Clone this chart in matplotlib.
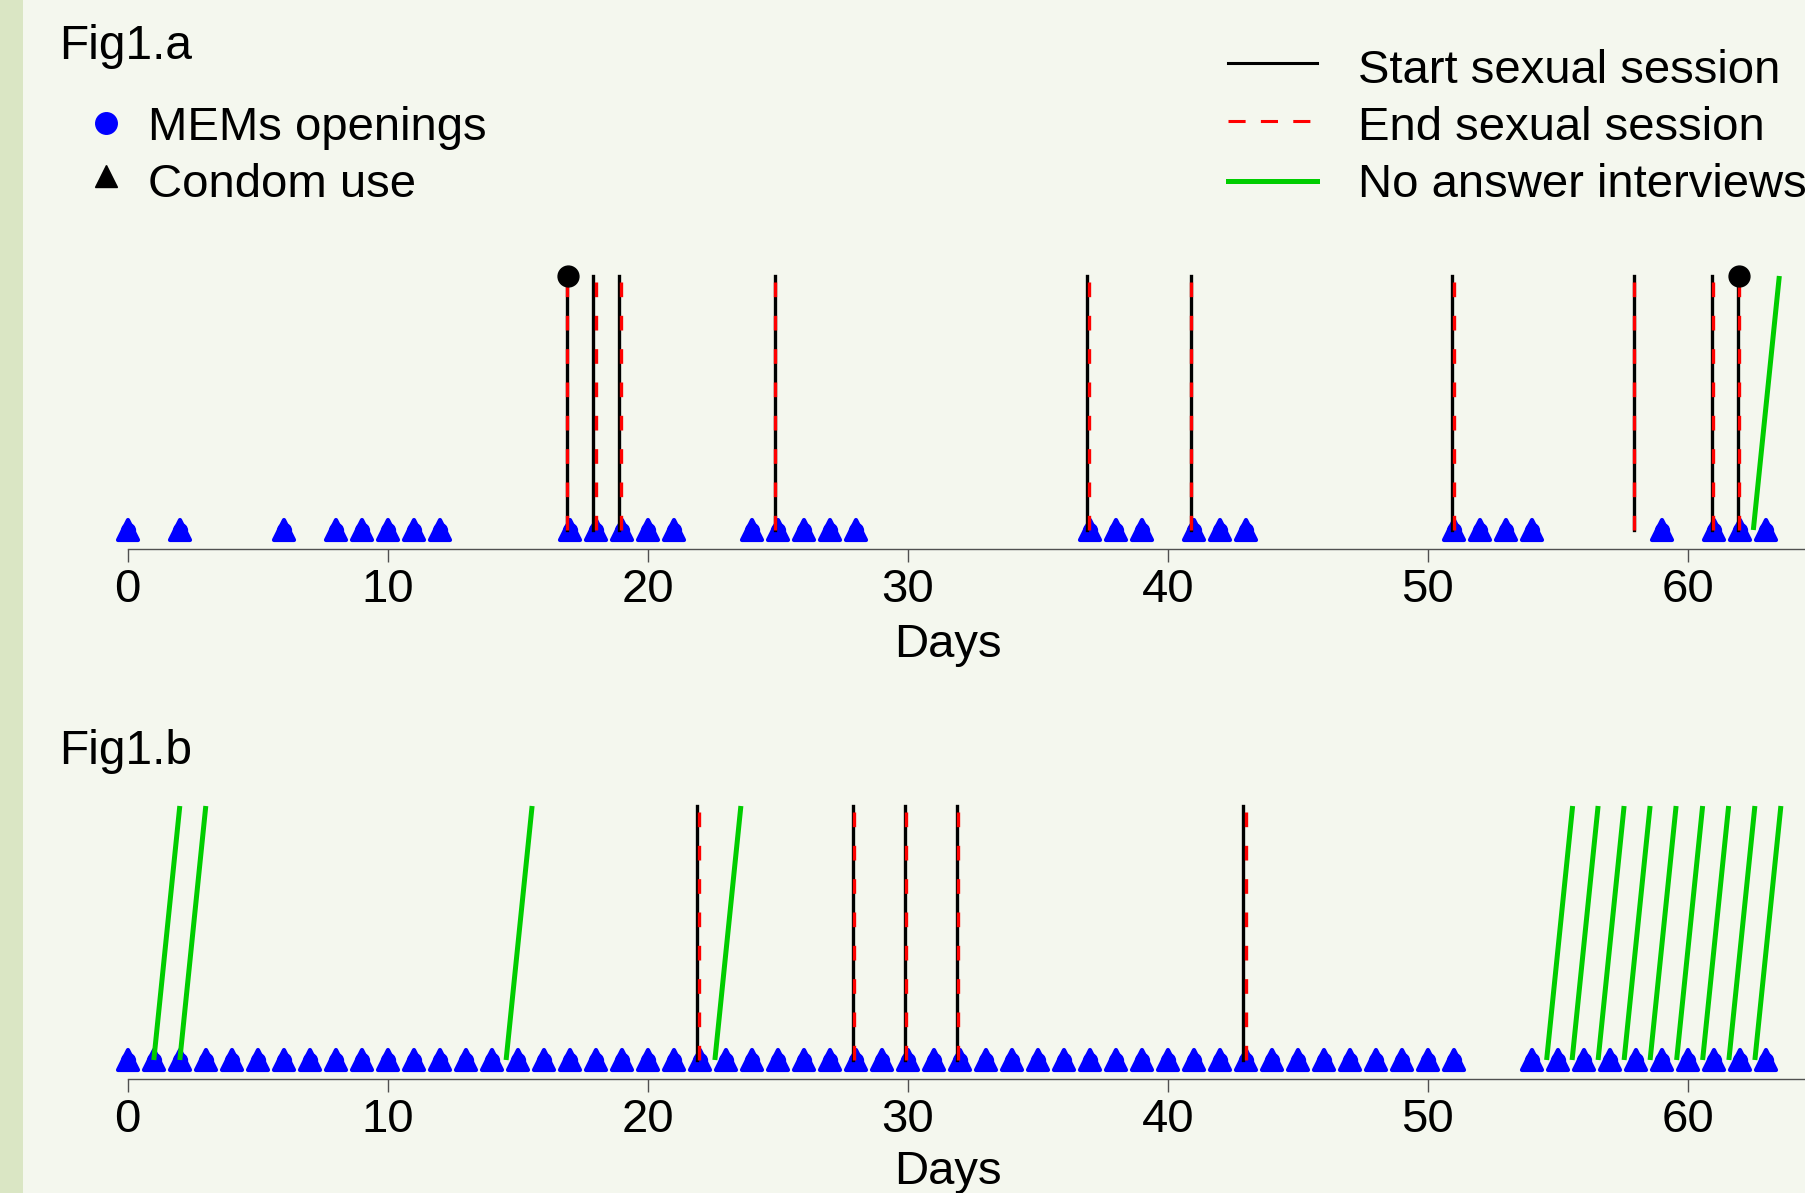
import matplotlib
matplotlib.use("Agg")
import matplotlib.pyplot as plt
from matplotlib.markers import MarkerStyle
from matplotlib.patches import Rectangle

plt.rcParams["font.family"] = ["Liberation Sans", "DejaVu Sans"]

# Fig1.a data (days)
mems_a = [0, 2, 6, 8, 9, 10, 11, 12, 17, 18, 19, 20, 21, 24, 25, 26, 27, 28,
          37, 38, 39, 41, 42, 43, 51, 52, 53, 54, 59, 61, 62, 63]
start_a = [16.88, 17.90, 18.89, 24.89, 36.91, 40.91, 50.92, 57.92, 60.92, 61.92]
end_a = [16.90, 17.99, 18.97, 24.89, 36.98, 40.91, 51.00, 57.92, 60.98, 61.98]
no_condom_a = [16.92, 61.97]
no_answer_a = [62.52]

# Fig1.b data (days)
mems_b = list(range(0, 52)) + list(range(54, 64))
start_b = [21.89, 27.91, 29.90, 31.90, 42.89]
end_b = [21.98, 27.93, 29.92, 31.92, 43.02]
no_condom_b = []
no_answer_b = [1.0, 2.0, 14.55, 22.58, 54.57, 55.55, 56.55, 57.55, 58.55,
               59.57, 60.57, 61.58, 62.58]

day_ticks = [0, 10, 20, 30, 40, 50, 60]
NO_ANSWER_SPAN = 1.0

W, H = 1806, 1193
BG = "#F4F7EE"
FS = 34

fig = plt.figure(figsize=(W / 100, H / 100), dpi=100, facecolor=BG)


def box(left, top, right, bottom):
    return [left / W, 1 - bottom / H, (right - left) / W, (bottom - top) / H]


def panel(top_px, bottom_px, zero_px, mems, starts, ends, dots, green):
    ax = fig.add_axes(box(127.8, top_px, W, bottom_px))
    ax.set_facecolor("none")
    unit = zero_px - top_px
    ax.set_ylim(-(bottom_px - zero_px) / unit, 1.0)
    ax.set_xlim(0, (W - 127.8) / 26.0)
    for s in ["top", "left", "right"]:
        ax.spines[s].set_visible(False)
    ax.spines["bottom"].set_color("#505050")
    ax.spines["bottom"].set_linewidth(1.0)
    ax.set_yticks([])
    ax.set_xticks(day_ticks)
    ax.set_xticklabels([str(t) for t in day_ticks], fontsize=FS)
    ax.tick_params(axis="x", length=9.7, width=1.0, color="#505050", pad=3.5)

    # MEMs openings (circle) overlaid with condom use (triangle)
    ax.plot(mems, [0] * len(mems), "o", color="blue", ms=10, clip_on=False, zorder=2)
    ax.plot(mems, [0] * len(mems), marker=MarkerStyle("^", joinstyle="round"),
            ls="none", color="blue", ms=15, mec="blue", mew=3.0,
            clip_on=False, zorder=2)
    for x in starts:
        ax.plot([x, x], [0, 1], color="black", lw=2.4, clip_on=False, zorder=3)
    for x in ends:
        ax.plot([x, x], [0, 1], color="red", lw=2.4, dashes=(4.4, 5.6),
                clip_on=False, zorder=4)
    for x in green:
        ax.plot([x, x + NO_ANSWER_SPAN], [0, 1], color="#00CD00", lw=3.6,
                solid_capstyle="butt", clip_on=False, zorder=5)
    if dots:
        ax.plot(dots, [1] * len(dots), "o", color="black", ms=15, clip_on=False, zorder=6)
    return ax


panel(276, 549.3, 530, mems_a, start_a, end_a, no_condom_a, no_answer_a)
panel(806, 1079.3, 1060, mems_b, start_b, end_b, no_condom_b, no_answer_b)

# overlay in pixel coordinates for labels and legend
ov = fig.add_axes([0, 0, 1, 1], zorder=10)
ov.set_xlim(0, W)
ov.set_ylim(H, 0)
ov.axis("off")
ov.patch.set_visible(False)
ov.add_patch(Rectangle((0, 0), 23, H, facecolor="#DAE6C4", edgecolor="none"))

ov.text(59, 59.3, "Fig1.a", fontsize=34.5, va="baseline", ha="left")
ov.text(59, 764.5, "Fig1.b", fontsize=34.5, va="baseline", ha="left")
ov.text(948.3, 657.3, "Days", fontsize=FS, va="baseline", ha="center")
ov.text(948.3, 1183.5, "Days", fontsize=FS, va="baseline", ha="center")

# legend left
ov.plot([105.7], [122.7], "o", color="blue", ms=15.5)
ov.plot([105.7], [175.7], "^", color="black", ms=16.5)
ov.text(148.5, 140, "MEMs openings", fontsize=FS, va="baseline")
ov.text(148.5, 196.7, "Condom use", fontsize=FS, va="baseline")

# legend right
ov.plot([1228, 1317], [63.3, 63.3], color="black", lw=2.2)
ov.plot([1228, 1317], [120.7, 120.7], color="red", lw=2.2, dashes=(5.6, 5.0))
ov.plot([1228, 1317], [180.7, 180.7], color="#00CD00", lw=3.6)
ov.text(1358, 83.3, "Start sexual session", fontsize=FS, va="baseline")
ov.text(1358, 140, "End sexual session", fontsize=FS, va="baseline")
ov.text(1358, 196.7, "No answer interviews", fontsize=FS, va="baseline")

fig.savefig("out.png", dpi=100, facecolor=BG)
